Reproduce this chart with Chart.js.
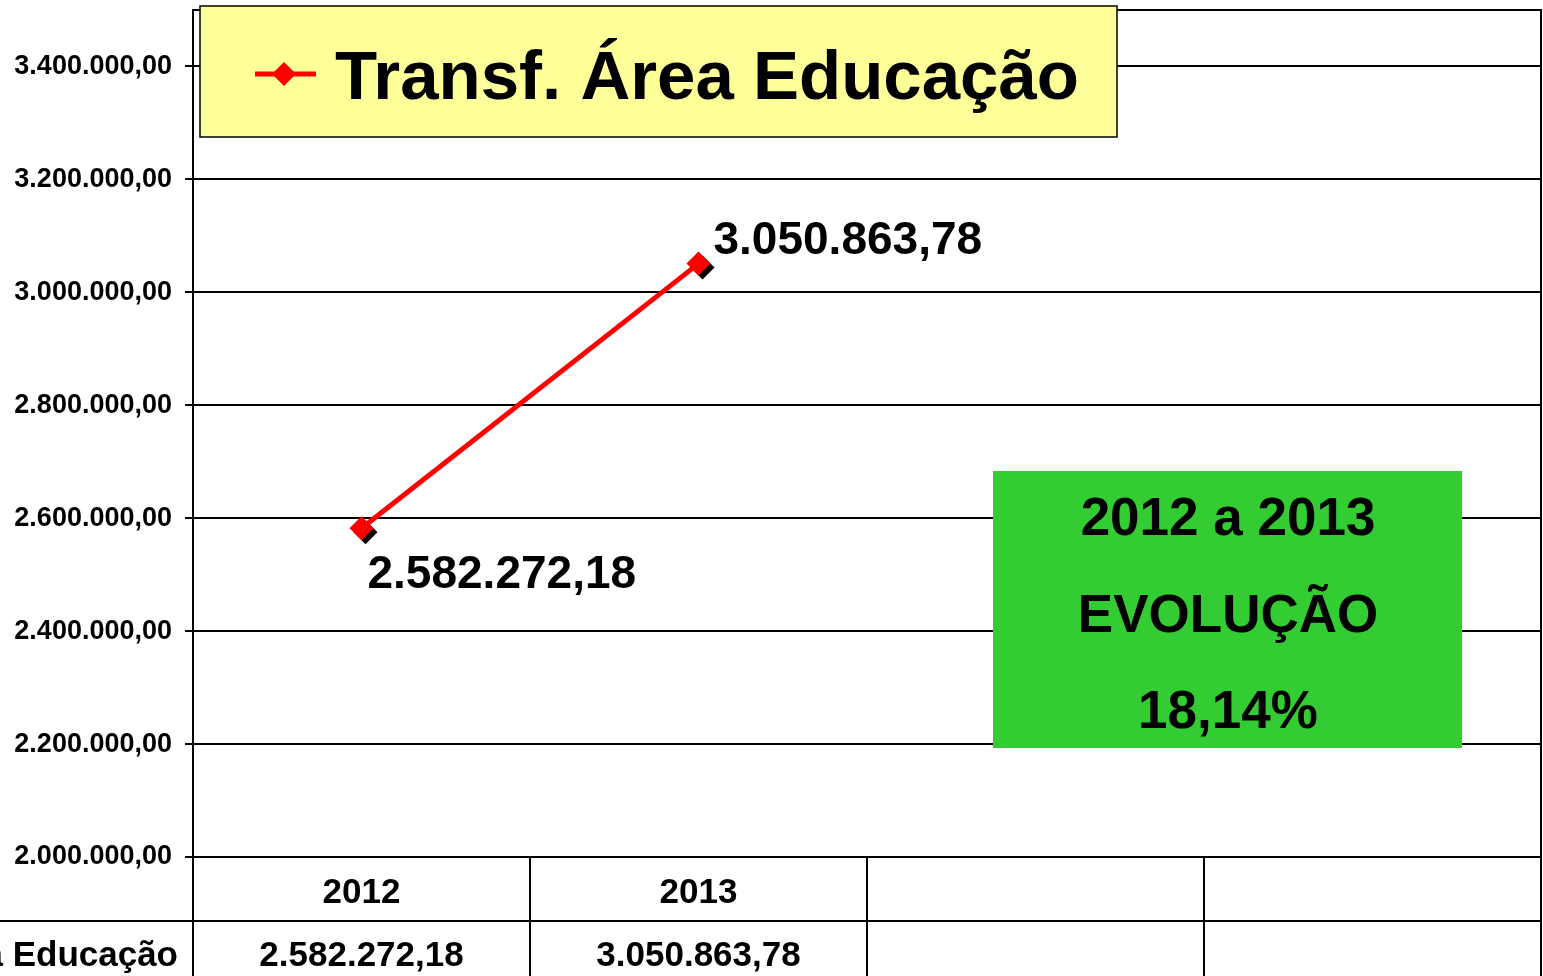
<!DOCTYPE html>
<html>
<head>
<meta charset="utf-8">
<script src="https://cdn.jsdelivr.net/npm/chart.js@4"></script>
<style>
  html, body { margin: 0; padding: 0; background: #fff; overflow: hidden; }
  canvas { display: block; }
</style>
</head>
<body>
<canvas id="educChart" width="1543" height="976"></canvas>
<script>
// dados
const years = ['2012', '2013', '', ''];
const seriesName = 'Transf. Área Educação';
const values = [2582272.18, 3050863.78, null, null];
const yTicks = [2000000, 2200000, 2400000, 2600000, 2800000, 3000000, 3200000, 3400000];
const noteLines = ['2012 a 2013', 'EVOLUÇÃO', '18,14%'];

const FONT = '"Liberation Sans", Arial, sans-serif';

function fmtBR(v) {
  const parts = Number(v).toFixed(2).split('.');
  return parts[0].replace(/\B(?=(\d{3})+(?!\d))/g, '.') + ',' + parts[1];
}

function diamond(ctx, x, y, r) {
  ctx.beginPath();
  ctx.moveTo(x, y - r);
  ctx.lineTo(x + r, y);
  ctx.lineTo(x, y + r);
  ctx.lineTo(x - r, y);
  ctx.closePath();
  ctx.fill();
}

function noPad(s) {
  s.paddingTop = 0;
  s.paddingBottom = 0;
  s.paddingLeft = 0;
  s.paddingRight = 0;
}

// sombra preta por baixo dos marcadores
const markerShadow = {
  id: 'markerShadow',
  beforeDatasetsDraw(chart) {
    const ctx = chart.ctx;
    ctx.save();
    ctx.fillStyle = '#000';
    chart.getDatasetMeta(0).data.forEach((pt, i) => {
      if (values[i] == null) return;
      diamond(ctx, pt.x + 4, pt.y + 4, 12);
    });
    ctx.restore();
  }
};

// rótulos dos valores junto aos pontos
const valueLabels = {
  id: 'valueLabels',
  afterDatasetsDraw(chart) {
    const ctx = chart.ctx;
    const offs = [[6, 60], [15, -10]];
    ctx.save();
    ctx.fillStyle = '#000';
    ctx.font = 'bold 46px ' + FONT;
    ctx.textAlign = 'left';
    ctx.textBaseline = 'alphabetic';
    chart.getDatasetMeta(0).data.forEach((pt, i) => {
      if (values[i] == null) return;
      ctx.fillText(fmtBR(values[i]), pt.x + offs[i][0], pt.y + offs[i][1]);
    });
    ctx.restore();
  }
};

// moldura, legenda, caixa verde e tabela de dados
const extras = {
  id: 'extras',
  afterDraw(chart) {
    const ctx = chart.ctx;
    const a = chart.chartArea;
    const xs = chart.scales.x;
    const colW = (a.right - a.left) / years.length;
    ctx.save();

    // moldura da área do gráfico
    ctx.strokeStyle = '#000';
    ctx.lineWidth = 2;
    ctx.beginPath();
    ctx.moveTo(a.left, a.top);
    ctx.lineTo(a.right, a.top);
    ctx.lineTo(a.right, a.bottom);
    ctx.stroke();

    // legenda
    const lx = a.left + 7, ly = a.top - 4;
    ctx.fillStyle = '#FFFF99';
    ctx.fillRect(lx, ly, 917, 131);
    ctx.lineWidth = 1.5;
    ctx.strokeRect(lx, ly, 917, 131);
    ctx.strokeStyle = '#FF0000';
    ctx.lineWidth = 5;
    ctx.beginPath();
    ctx.moveTo(lx + 55, ly + 68);
    ctx.lineTo(lx + 116, ly + 68);
    ctx.stroke();
    ctx.fillStyle = '#FF0000';
    diamond(ctx, lx + 84, ly + 68, 12);
    ctx.fillStyle = '#000';
    ctx.font = 'bold 69px ' + FONT;
    ctx.textAlign = 'left';
    ctx.textBaseline = 'alphabetic';
    ctx.fillText(seriesName, lx + 135, ly + 93);

    // caixa verde
    ctx.fillStyle = '#33CC33';
    ctx.fillRect(993, 471, 469, 277);
    ctx.fillStyle = '#000';
    ctx.font = 'bold 53px ' + FONT;
    ctx.textAlign = 'center';
    const bases = [535, 632, 728];
    noteLines.forEach((t, i) => ctx.fillText(t, 1228, bases[i]));

    // tabela de dados
    const rowY = a.bottom + 64;
    ctx.strokeStyle = '#000';
    ctx.lineWidth = 2;
    ctx.beginPath();
    ctx.moveTo(0, rowY);
    ctx.lineTo(a.right, rowY);
    for (let i = 0; i <= years.length; i++) {
      const x = a.left + i * colW;
      ctx.moveTo(x, a.bottom);
      ctx.lineTo(x, chart.height);
    }
    ctx.stroke();

    ctx.font = 'bold 35px ' + FONT;
    ctx.textAlign = 'center';
    years.forEach((y, i) => {
      const cx = xs.getPixelForValue(i);
      if (y) ctx.fillText(y, cx, a.bottom + 46);
      if (values[i] != null) ctx.fillText(fmtBR(values[i]), cx, rowY + 45);
    });
    ctx.textAlign = 'right';
    ctx.fillText(seriesName, a.left - 15, rowY + 45);

    ctx.restore();
  }
};

new Chart(document.getElementById('educChart'), {
  type: 'line',
  data: {
    labels: years,
    datasets: [{
      label: seriesName,
      data: values,
      borderColor: '#FF0000',
      backgroundColor: '#FF0000',
      borderWidth: 5,
      pointStyle: 'rectRot',
      pointRadius: 12,
      pointBorderWidth: 0,
      pointBackgroundColor: '#FF0000',
      tension: 0
    }]
  },
  options: {
    responsive: false,
    animation: false,
    layout: { autoPadding: false, padding: { top: 10, right: 2, bottom: 119, left: 0 } },
    plugins: { legend: { display: false }, tooltip: { enabled: false } },
    scales: {
      x: { display: false, offset: true, afterFit: noPad },
      y: {
        min: 2000000,
        max: 3500000,
        afterBuildTicks: s => { s.ticks = yTicks.map(v => ({ value: v })); },
        afterFit: s => { s.width = 193; noPad(s); },
        grid: { color: '#000', lineWidth: 2, tickLength: 8, tickColor: '#000' },
        border: { color: '#000', width: 2 },
        ticks: {
          padding: 13,
          color: '#000',
          font: { family: FONT, size: 27, weight: 'bold' },
          callback: v => fmtBR(v)
        }
      }
    }
  },
  plugins: [markerShadow, valueLabels, extras]
});
</script>
</body>
</html>
